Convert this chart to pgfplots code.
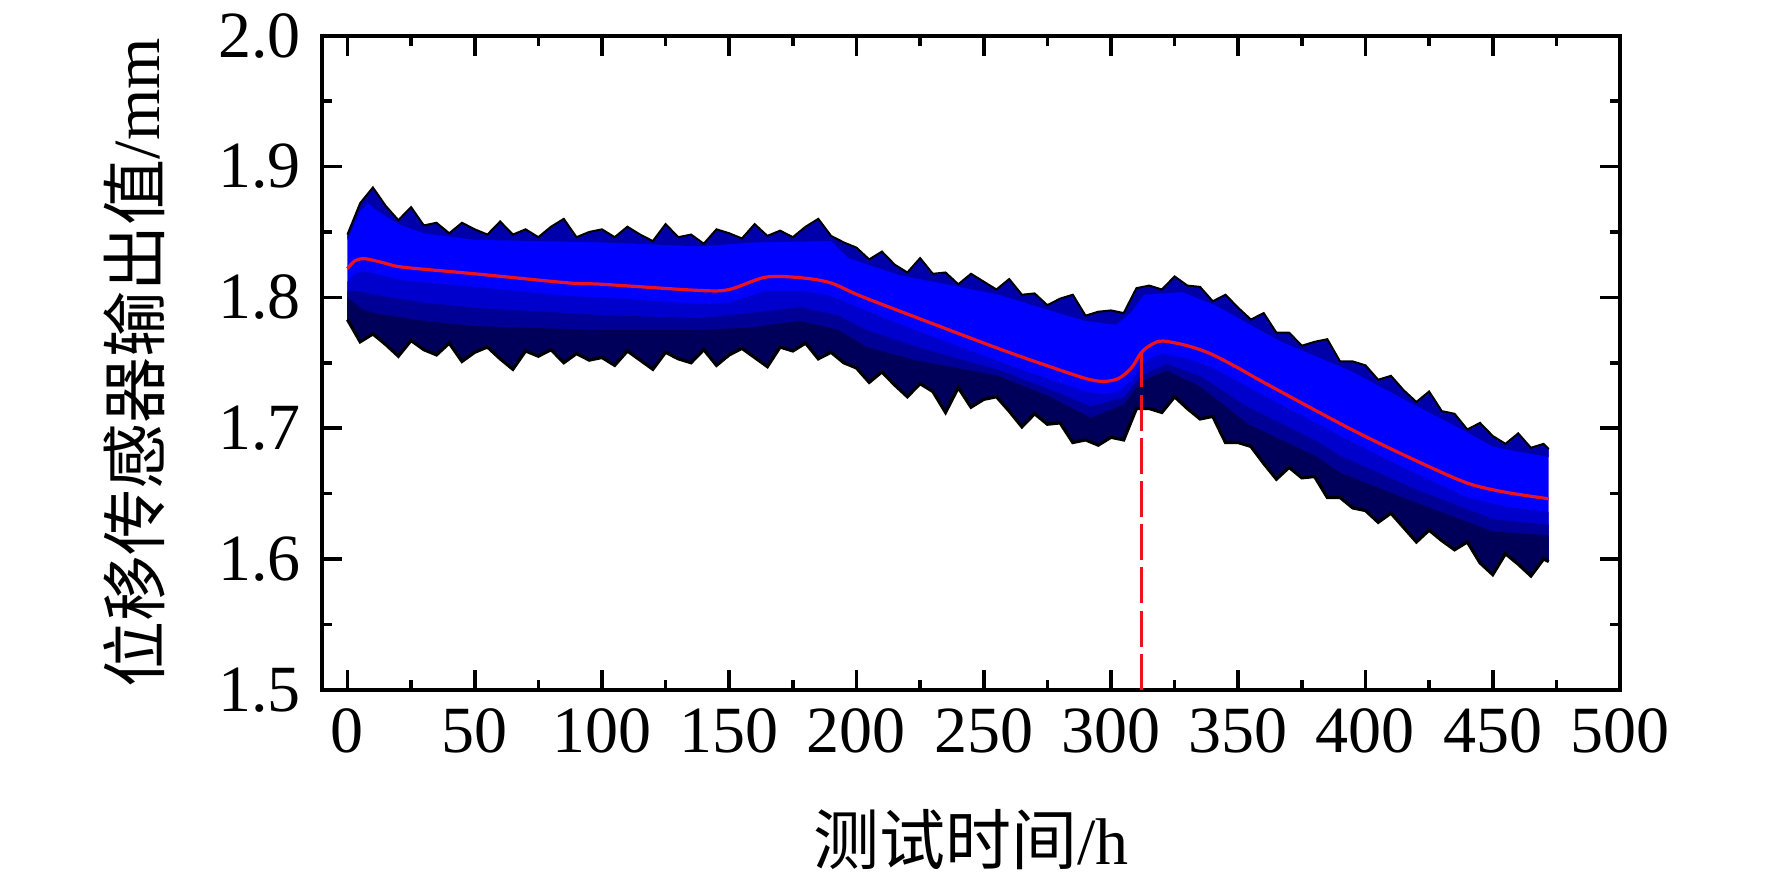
\documentclass[border=0pt]{standalone}
\usepackage{fontspec}
\setmainfont{Liberation Serif}
\newfontfamily\cjk{Noto Sans CJK SC}
\usepackage{pgfplots}
\pgfplotsset{compat=1.18}
\usepackage{pgfplotstable}
\usepgfplotslibrary{fillbetween}

\definecolor{bandblue}{RGB}{0,0,255}
\definecolor{fringeblue}{RGB}{0,0,170}
\definecolor{midblue}{RGB}{0,0,205}
\definecolor{mid2blue}{RGB}{0,0,150}
\definecolor{deepblue}{RGB}{0,0,90}
\definecolor{curvered}{RGB}{235,20,30}

% upper edge of the noisy band
\pgfplotstableread{
t v
0 1.848
5 1.872
10 1.884
15 1.870
20 1.859
25 1.869
30 1.855
35 1.857
40 1.849
45 1.857
50 1.852
55 1.848
60 1.858
65 1.848
70 1.852
75 1.846
80 1.854
85 1.860
90 1.846
95 1.850
100 1.852
105 1.846
110 1.854
115 1.848
120 1.843
125 1.856
130 1.846
135 1.848
140 1.841
145 1.852
150 1.849
155 1.845
160 1.856
165 1.847
170 1.851
175 1.846
180 1.854
185 1.860
190 1.847
195 1.842
200 1.838
205 1.829
210 1.835
215 1.825
220 1.819
225 1.830
230 1.818
235 1.819
240 1.810
245 1.818
250 1.812
255 1.806
260 1.814
265 1.802
270 1.803
275 1.794
280 1.799
285 1.802
290 1.786
295 1.789
300 1.790
305 1.788
310 1.807
315 1.809
320 1.806
325 1.816
330 1.809
335 1.808
340 1.797
345 1.802
350 1.792
355 1.783
360 1.788
365 1.773
370 1.773
375 1.763
380 1.766
385 1.768
390 1.751
395 1.751
400 1.748
405 1.737
410 1.740
415 1.729
420 1.720
425 1.728
430 1.713
435 1.711
440 1.699
445 1.704
450 1.694
455 1.688
460 1.696
465 1.685
470 1.688
472 1.684
}\upperedge

% inner limit of the dark fringe along the top
\pgfplotstableread{
t v
0 1.844
5 1.866
8 1.872
12 1.866
20 1.856
30 1.849
50 1.844
100 1.842
138 1.839
160 1.842
190 1.843
197 1.830
217 1.817
256 1.802
276 1.790
290 1.782
302 1.779
308 1.789
313 1.802
328 1.804
341 1.794
367 1.766
394 1.744
420 1.717
440 1.697
450 1.686
460 1.682
472 1.678
}\upperinner

% lower edge of the noisy band
\pgfplotstableread{
t v
0 1.783
5 1.766
10 1.772
15 1.764
20 1.755
25 1.767
30 1.760
35 1.756
40 1.765
45 1.751
50 1.758
55 1.762
60 1.753
65 1.745
70 1.759
75 1.755
80 1.760
85 1.750
90 1.757
95 1.752
100 1.754
105 1.748
110 1.759
115 1.752
120 1.745
125 1.758
130 1.753
135 1.750
140 1.760
145 1.748
150 1.756
155 1.761
160 1.754
165 1.747
170 1.762
175 1.759
180 1.765
185 1.753
190 1.758
195 1.750
200 1.746
205 1.735
210 1.743
215 1.733
220 1.724
225 1.734
230 1.728
235 1.712
240 1.731
245 1.716
250 1.722
255 1.724
260 1.713
265 1.701
270 1.711
275 1.703
280 1.704
285 1.689
290 1.691
295 1.687
300 1.693
305 1.691
310 1.715
315 1.715
320 1.712
325 1.724
330 1.715
335 1.707
340 1.709
345 1.689
350 1.689
355 1.686
360 1.673
365 1.661
370 1.670
375 1.662
380 1.663
385 1.647
390 1.647
395 1.639
400 1.637
405 1.628
410 1.635
415 1.624
420 1.613
425 1.622
430 1.614
435 1.607
440 1.613
445 1.597
450 1.588
455 1.604
460 1.596
465 1.587
470 1.600
472 1.598
}\loweredge

% where the darker lower half of the band begins
\pgfplotstableread{
t v
0 1.812
3 1.818
7 1.820
15 1.816
22 1.813
50 1.808
87 1.801
100 1.800
138 1.795
150 1.796
164.5 1.805
179 1.805
190 1.801
201 1.792
223 1.775
256 1.751
276 1.737
290 1.728
297 1.726
303 1.728
308 1.736
312 1.748
316 1.754
320.4 1.757
330 1.753
339 1.747
360 1.725
394 1.690
420 1.665
440 1.647
455 1.640
472 1.636
}\midedge

% second, darker step
\pgfplotstableread{
t v
0 1.805
5 1.8045
10 1.802
30 1.796
50 1.792
100 1.7865
138 1.784
158 1.788
178 1.7925
193 1.786
204 1.775
223 1.7625
256 1.7445
276 1.7295
292 1.7167
305 1.7235
312 1.741
322 1.749
335 1.740
354 1.716
381 1.690
390 1.679
420 1.653
450 1.6305
472 1.626
}\midtwoedge

% deep dark fringe along the bottom
\pgfplotstableread{
t v
0 1.800
5 1.792
10 1.788
30 1.782
50 1.778
100 1.775
138 1.775
158 1.777
178 1.782
193 1.775
204 1.762
223 1.752
256 1.740
276 1.724
292 1.708
305 1.718
312 1.736
322 1.744
335 1.732
354 1.703
381 1.678
390 1.666
420 1.643
450 1.621
472 1.618
}\deepedge

% fitted trend (red)
\pgfplotstableread{
t v
0 1.822
3 1.828
7 1.8295
15 1.826
22 1.823
50 1.818
87 1.811
100 1.810
138 1.8053
150 1.806
164.5 1.8155
179 1.8148
190 1.811
201 1.8015
223 1.785
256 1.7607
276 1.747
290 1.738
297 1.7357
303 1.738
308 1.746
312 1.758
316 1.764
320.4 1.7666
330 1.763
339 1.757
350 1.746
360 1.735
394 1.6995
420 1.675
440 1.658
455 1.651
472 1.646
}\trend

\begin{document}
\begin{tikzpicture}
\path (-80.5pt,-48.5pt) rectangle (362.5pt,171.5pt);
\begin{axis}[
  at={(0pt,0pt)}, anchor=south west,
  scale only axis, width=324.5pt, height=163.5pt,
  xmin=-10, xmax=500, ymin=1.5, ymax=2.0,
  xtick={0,50,100,150,200,250,300,350,400,450,500},
  ytick={1.5,1.6,1.7,1.8,1.9,2.0},
  minor x tick num=1, minor y tick num=1,
  tick align=inside,
  major tick length=5pt, minor tick length=2.5pt,
  axis line style={line width=0.9pt},
  every tick/.style={black, line width=0.9pt},
  /pgf/number format/assume math mode=true,
  tick label style={font=\fontsize{16.5}{18}\selectfont},
  yticklabel style={/pgf/number format/.cd, fixed, fixed zerofill, precision=1},
  xticklabel style={/pgf/number format/.cd, fixed, precision=0},
  xticklabel shift=1.25pt,
  yticklabel shift=1.75pt,
  label style={font=\fontsize{16.5}{18}\selectfont},
  xlabel={{\cjk 测试时间}/h},
  ylabel={{\cjk 位移传感器输出值}/mm},
  xlabel style={at={(axis description cs:0.5,-0.2294)}, anchor=center},
  ylabel style={at={(axis description cs:-0.1448,0.5)}, anchor=center},
]
\addplot[draw=none, name path=U, forget plot] table[x=t,y=v] {\upperedge};
\addplot[draw=none, name path=UI, forget plot] table[x=t,y=v] {\upperinner};
\addplot[draw=none, name path=L, forget plot] table[x=t,y=v] {\loweredge};
\addplot[draw=none, name path=M, forget plot] table[x=t,y=v] {\midedge};
\addplot[draw=none, name path=MT, forget plot] table[x=t,y=v] {\midtwoedge};
\addplot[draw=none, name path=D, forget plot] table[x=t,y=v] {\deepedge};
\addplot[bandblue, draw=none] fill between[of=U and L];
\addplot[fringeblue, draw=none] fill between[of=U and UI];
\addplot[midblue, draw=none] fill between[of=M and L];
\addplot[mid2blue, draw=none] fill between[of=MT and L];
\addplot[deepblue, draw=none] fill between[of=D and L];
\addplot[black, line width=0.5pt] table[x=t,y=v] {\upperedge};
\addplot[black, line width=0.8pt] table[x=t,y=v] {\loweredge};
\addplot[curvered, line width=0.8pt, smooth, tension=0.5] table[x=t,y=v] {\trend};
\addplot[curvered, line width=0.6pt, dash pattern=on 9pt off 1.8pt] coordinates {(312,1.5) (312,1.758)};
\end{axis}
\end{tikzpicture}
\end{document}
